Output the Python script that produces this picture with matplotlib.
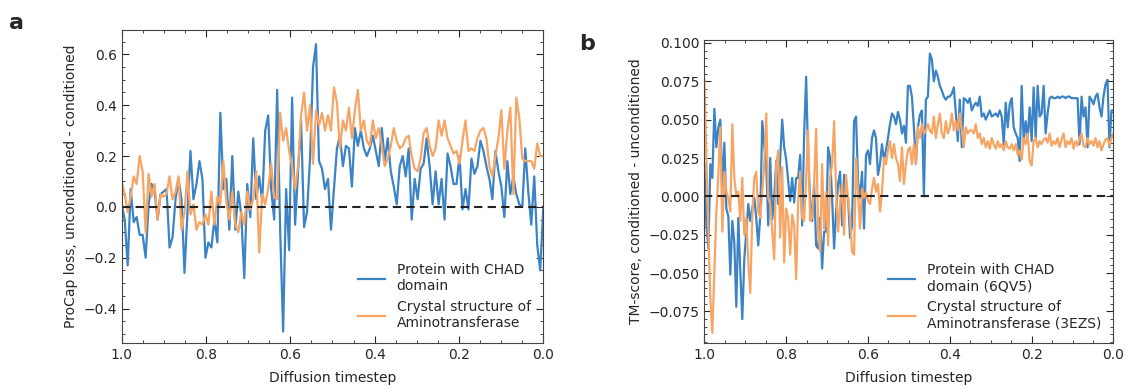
import numpy as np
import matplotlib
matplotlib.use("Agg")
import matplotlib.pyplot as plt
from matplotlib.ticker import MultipleLocator

# panel a: ProCap loss difference (t runs 1.0 -> 0.0)
procap_chad = [
    0.01, -0.05, -0.23, 0.07, -0.06, -0.04, -0.11, -0.11, -0.20, 0.01,
    0.09, 0.06, -0.05, 0.05, 0.06, 0.07, -0.16, -0.12, 0.03, 0.11,
    0.03, -0.26, -0.02, 0.22, 0.03, 0.09, 0.18, 0.11, -0.20, -0.14,
    -0.16, -0.05, -0.14, 0.37, 0.07, 0.11, -0.09, 0.20, -0.09, 0.06,
    -0.03, -0.28, 0.09, -0.04, 0.27, 0.03, 0.12, 0.02, 0.30,
    0.36, 0.07, -0.05, 0.46, -0.09, -0.49, 0.07, -0.17, 0.43, -0.07,
    0.14, 0.34, -0.08, -0.02, 0.19, 0.55, 0.64, 0.18, 0.15, 0.07,
    0.11, -0.09, 0.07, 0.23, 0.28, 0.16, 0.24, 0.23, 0.08, 0.31,
    0.24, 0.30, 0.23, 0.20, 0.23, 0.28, 0.22, 0.16, 0.31, 0.18,
    0.27, 0.14, 0.08, 0.01, 0.16, 0.20, 0.12,
    0.23, -0.05, 0.11, 0.03, 0.15, 0.17, 0.27, 0.16, 0.01, 0.14,
    0.01, 0.11, -0.05, 0.21, 0.16, 0.09, 0.09, 0.20, -0.01, 0.07,
    -0.01, 0.19, 0.13, 0.16, 0.26, 0.22, 0.16, 0.11, 0.03, 0.22,
    0.14, 0.08, -0.04, 0.18, 0.05, 0.12, 0.05, 0.01, 0.00, 0.23,
    0.06, -0.07, 0.12, -0.15, -0.25, -0.01,
]
procap_amino = [
    0.10, 0.05, -0.02, 0.04, 0.12, 0.09, 0.20, 0.14, -0.10, 0.13,
    0.04, 0.09, -0.05, 0.05, 0.04, 0.05, 0.12, 0.03, 0.06, 0.12,
    -0.09, -0.02, 0.14, -0.03, 0.01, -0.09, -0.06, -0.07, -0.03, -0.07,
    0.06, -0.07, 0.04, 0.01, 0.18, 0.02, -0.05, 0.06, -0.07, -0.10,
    -0.02, -0.07, 0.06, -0.01, 0.03, 0.14, -0.18, 0.05, 0.01,
    0.07, 0.17, 0.04, 0.03, 0.37, 0.26, 0.31, 0.22, 0.16, 0.07,
    0.16, 0.36, 0.45, 0.30, 0.40, 0.17, 0.38, 0.32, 0.37, 0.30,
    0.36, 0.30, 0.47, 0.41, 0.23, 0.34, 0.30, 0.39, 0.27, 0.38,
    0.46, 0.30, 0.34, 0.26, 0.24, 0.34, 0.27, 0.31, 0.24, 0.16,
    0.19, 0.24, 0.31, 0.26, 0.23, 0.24, 0.27,
    0.28, 0.20, 0.15, 0.14, 0.19, 0.29, 0.31, 0.24, 0.20, 0.23,
    0.34, 0.28, 0.34, 0.27, 0.24, 0.21, 0.22, 0.17, 0.26, 0.34,
    0.22, 0.23, 0.22, 0.27, 0.30, 0.31, 0.27, 0.16, 0.12, 0.20,
    0.27, 0.38, 0.15, 0.30, 0.39, 0.05, 0.43, 0.35, 0.19, 0.18,
    0.18, 0.18, 0.15, 0.25, 0.20, 0.20,
]

# panel b: TM-score difference
tm_chad = [
    0.021, -0.018, -0.034, 0.021, 0.012, 0.057, 0.032, 0.045, 0.050, 0.003,
    0.035, -0.008, -0.013, -0.051, -0.016, -0.030, -0.072, -0.014, -0.049, -0.080,
    -0.041, -0.023, -0.005, -0.016, -0.008, -0.001, -0.014, -0.032, -0.013, 0.049,
    0.033, 0.021, -0.019, 0.025, -0.015, -0.001, 0.023, -0.005, 0.025, 0.050,
    0.032, 0.024, 0.010, -0.003, 0.012, -0.004, 0.012, 0.012, 0.027, -0.019,
    0.041, 0.078, 0.025, -0.001, -0.016, 0.008, -0.032, -0.034, -0.014, -0.047,
    -0.023, -0.023, 0.032, 0.025, -0.001, -0.034, -0.010, 0.008, 0.016, -0.019,
    0.014,
    0.003, -0.001, -0.027, -0.019, 0.049, 0.052, 0.010, -0.001, 0.016, -0.021,
    0.027, 0.030, 0.021, 0.038, 0.043, 0.038, 0.014, 0.021, 0.034, 0.024,
    0.030, 0.038, 0.047, 0.054, 0.052, 0.047, 0.055, 0.050, 0.041, 0.046,
    0.035, 0.072, 0.072, 0.065, 0.045, 0.021, 0.045, 0.053, 0.056, 0.000,
    0.063, 0.065, 0.093, 0.089, 0.075, 0.082, 0.078, 0.072, 0.069, 0.065,
    0.063, 0.065, 0.065, 0.067, 0.071, 0.054, 0.036, 0.063, 0.032, 0.064,
    0.063, 0.061, 0.064, 0.056, 0.059, 0.061, 0.059,
    0.065, 0.052, 0.054, 0.050, 0.053, 0.056, 0.052, 0.053, 0.054, 0.052,
    0.056, 0.052, 0.034, 0.061, 0.045, 0.060, 0.064, 0.045, 0.041, 0.038,
    0.023, 0.072, 0.036, 0.049, 0.038, 0.058, 0.036, 0.071, 0.038, 0.072,
    0.052, 0.054, 0.072, 0.041, 0.054, 0.064, 0.065, 0.064, 0.064, 0.065,
    0.064, 0.065, 0.065, 0.064, 0.065, 0.065, 0.064, 0.064, 0.064, 0.064,
    0.034, 0.065, 0.052, 0.058, 0.032, 0.065, 0.063, 0.060, 0.065, 0.067,
    0.058, 0.052, 0.065, 0.073, 0.076, 0.032, 0.056, 0.056,
]
tm_amino = [
    0.076, 0.025, -0.023, -0.067, -0.089, -0.049, -0.010, 0.014, 0.045, -0.023,
    0.016, 0.003, -0.001, -0.010, 0.047, 0.012, 0.001, 0.003, -0.016, 0.012,
    -0.025, -0.014, -0.043, -0.063, -0.014, 0.012, 0.016, -0.010, -0.014, 0.003,
    0.021, 0.054, -0.001, -0.005, -0.023, -0.041, 0.021, 0.030, -0.027, 0.019,
    -0.043, -0.008, -0.014, -0.038, -0.012, -0.019, -0.054, -0.003, 0.016, -0.014,
    -0.016, 0.012, 0.043, -0.016, -0.014, 0.009, 0.044, -0.023, -0.036, 0.021,
    -0.021, 0.003, -0.032, 0.012, 0.021, 0.049, 0.003, -0.023, -0.005, 0.008,
    -0.025,
    0.014, -0.001, -0.014, -0.036, -0.038, 0.025, 0.003, -0.021, 0.005, -0.001,
    0.003, -0.003, -0.005, 0.005, 0.012, 0.003, 0.008, -0.010, 0.003, 0.025,
    0.021, 0.030, 0.036, 0.025, 0.034, 0.025, 0.021, 0.010, 0.032, 0.008,
    0.021, 0.030, 0.032, 0.021, 0.034, 0.021, 0.045, 0.038, 0.047, 0.041,
    0.043, 0.047, 0.043, 0.041, 0.052, 0.038, 0.047, 0.054, 0.041, 0.038,
    0.049, 0.041, 0.045, 0.054, 0.043, 0.049, 0.043, 0.054, 0.043, 0.032,
    0.045, 0.041, 0.043, 0.043, 0.041, 0.047, 0.038,
    0.041, 0.034, 0.038, 0.032, 0.036, 0.031, 0.038, 0.034, 0.031, 0.036,
    0.032, 0.034, 0.030, 0.036, 0.032, 0.031, 0.034, 0.030, 0.034, 0.027,
    0.030, 0.024, 0.038, 0.034, 0.041, 0.023, 0.020, 0.036, 0.038, 0.032,
    0.036, 0.034, 0.037, 0.038, 0.035, 0.041, 0.033, 0.036, 0.034, 0.038,
    0.032, 0.037, 0.041, 0.032, 0.036, 0.034, 0.038, 0.031, 0.036, 0.033,
    0.038, 0.041, 0.033, 0.032, 0.038, 0.034, 0.036, 0.033, 0.038, 0.032,
    0.036, 0.030, 0.034, 0.037, 0.038, 0.033, 0.038, 0.041,
]

labels_a = ["Protein with CHAD\ndomain", "Crystal structure of\nAminotransferase"]
labels_b = ["Protein with CHAD\ndomain (6QV5)", "Crystal structure of\nAminotransferase (3EZS)"]

BLUE = "#3c83c5"
ORANGE = "#f7a564"
TXT = "#262626"

plt.rcParams.update({
    "font.size": 10,
    "text.color": TXT,
    "axes.labelcolor": TXT,
    "xtick.color": TXT,
    "ytick.color": TXT,
    "axes.edgecolor": "#444444",
    "xtick.direction": "in",
    "ytick.direction": "in",
    "xtick.top": True,
    "ytick.right": True,
    "xtick.minor.visible": True,
    "ytick.minor.visible": True,
    "xtick.major.size": 5,
    "ytick.major.size": 5,
    "xtick.minor.size": 2.5,
    "ytick.minor.size": 2.5,
})

fig = plt.figure(figsize=(11.27, 3.87), dpi=100)
ax1 = fig.add_axes([0.108, 0.114, 0.374, 0.808])
ax2 = fig.add_axes([0.625, 0.114, 0.363, 0.783])


def draw(ax, chad, amino, labels, ylim, ymaj, ymin, ylabel):
    ax.plot(np.linspace(1, 0, len(chad)), chad, color=BLUE, lw=1.6, label=labels[0])
    ax.plot(np.linspace(1, 0, len(amino)), amino, color=ORANGE, lw=1.6, label=labels[1])
    ax.axhline(0, color="#222222", ls="--", lw=1.5, dashes=(4, 2.5))
    ax.set_xlim(1.0, 0.0)
    ax.set_ylim(*ylim)
    ax.xaxis.set_major_locator(MultipleLocator(0.2))
    ax.xaxis.set_minor_locator(MultipleLocator(0.05))
    ax.yaxis.set_major_locator(MultipleLocator(ymaj))
    ax.yaxis.set_minor_locator(MultipleLocator(ymin))
    ax.set_xlabel("Diffusion timestep", labelpad=6.5)
    ax.set_ylabel(ylabel)
    ax.legend(loc="lower right", frameon=False, fontsize=10)


draw(ax1, procap_chad, procap_amino, labels_a, (-0.535, 0.695), 0.2, 0.05,
     "ProCap loss, unconditioned - conditioned")
draw(ax2, tm_chad, tm_amino, labels_b, (-0.0955, 0.102), 0.025, 0.005,
     "TM-score, conditioned - unconditioned")

fig.text(0.008, 0.925, "a", fontsize=16, fontweight="bold")
fig.text(0.514, 0.872, "b", fontsize=16, fontweight="bold")

fig.savefig("out.png", dpi=100)
